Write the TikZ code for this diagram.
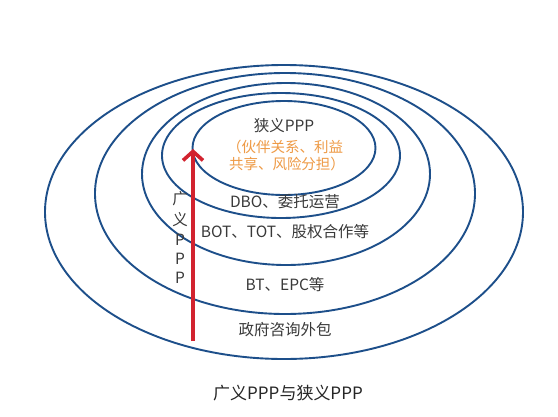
\documentclass[tikz,border=0pt]{standalone}
\usepackage{fontspec}
\setmainfont{Noto Sans CJK SC}
\usetikzlibrary{shapes.geometric,arrows.meta}
\definecolor{ringblue}{HTML}{1D4F8A}
\definecolor{arrowred}{HTML}{D2232F}
\definecolor{txtgray}{HTML}{3A3A3A}
\definecolor{txtorange}{HTML}{EE9A45}
\tikzset{
  ring/.style={ellipse, draw=ringblue, line width=1.9pt, inner sep=0pt},
  lbl/.style={text=txtgray, font=\fontsize{15.5}{17}\selectfont, inner sep=0pt},
  orng/.style={text=txtorange, font=\fontsize{14.5}{17}\selectfont, inner sep=0pt},
  vert/.style={text=txtgray, font=\fontsize{15.5}{17}\selectfont, inner sep=0pt},
}
\begin{document}
\begin{tikzpicture}[x=1pt,y=-1pt]
\useasboundingbox (0,0) rectangle (558,416);
\fill[white] (0,0) rectangle (558,416);
\node[ring, minimum width=478pt, minimum height=294pt] (r1) at (284,212) {};
\node[ring, minimum width=380pt, minimum height=241pt] (r2) at (285,193.5) {};
\node[ring, minimum width=288pt, minimum height=182pt] (r3) at (286,174) {};
\node[ring, minimum width=238pt, minimum height=125pt] (r4) at (281,155.5) {};
\node[ring, minimum width=183pt, minimum height=94pt] (r5) at (284,148) {};
\coordinate (abot) at (193,341);
\coordinate (atop) at (193,149);
\draw[arrowred, line width=3.6pt, -{Straight Barb[length=9pt,width=20pt]}] (abot) -- (atop);
\node[lbl] (n1) at (284,126) {狭义PPP};
\node[orng] (n2) at (285,147) {（伙伴关系、利益};
\node[orng] (n3) at (287,164) {共享、风险分担）};
\node[lbl] (n4) at (285,202) {DBO、委托运营};
\node[lbl] (n5) at (285,232) {BOT、TOT、股权合作等};
\node[lbl] (n6) at (285,285) {BT、EPC等};
\node[lbl] (n7) at (285,330) {政府咨询外包};
\node[vert] (v1) at (180,199) {广};
\node[vert] (v2) at (180,220) {义};
\node[vert] (v3) at (180,240) {P};
\node[vert] (v4) at (180,259) {P};
\node[vert] (v5) at (180,278) {P};
\node[text=black!85, font=\fontsize{17}{19}\selectfont, inner sep=0pt] (title) at (288,393) {广义PPP与狭义PPP};
\end{tikzpicture}
\end{document}
